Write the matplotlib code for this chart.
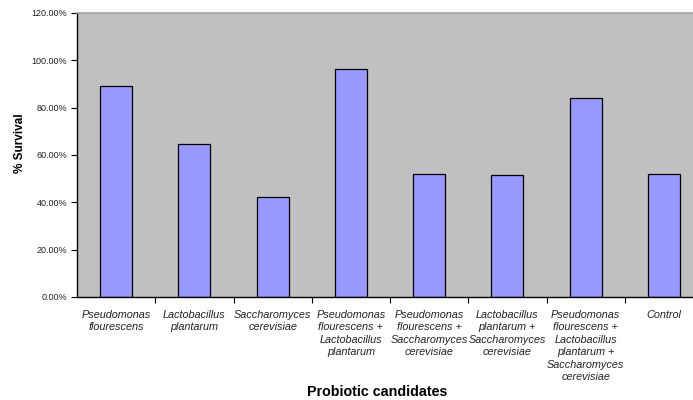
import matplotlib.pyplot as plt
from matplotlib.ticker import FuncFormatter

plt.rcParams["font.family"] = ["Liberation Sans", "DejaVu Sans"]

candidates = [
    "Pseudomonas\nflourescens",
    "Lactobacillus\nplantarum",
    "Saccharomyces\ncerevisiae",
    "Pseudomonas\nflourescens +\nLactobacillus\nplantarum",
    "Pseudomonas\nflourescens +\nSaccharomyces\ncerevisiae",
    "Lactobacillus\nplantarum +\nSaccharomyces\ncerevisiae",
    "Pseudomonas\nflourescens +\nLactobacillus\nplantarum +\nSaccharomyces\ncerevisiae",
    "Control",
]
survival = [0.89, 0.645, 0.421, 0.962, 0.521, 0.517, 0.841, 0.521]
y_ticks = [0.0, 0.2, 0.4, 0.6, 0.8, 1.0, 1.2]

fig = plt.figure(figsize=(6.93, 4.0), dpi=100)
ax = fig.add_axes([77 / 693, 103 / 400, 626 / 693, 284 / 400])
ax.set_facecolor("#C0C0C0")

x = range(len(candidates))
ax.bar(x, survival, width=0.41, color="#9999FF", edgecolor="black", linewidth=0.9)

ax.set_xlim(-0.5, len(candidates) - 0.5)
ax.set_ylim(0, 1.2)
ax.set_yticks(y_ticks)
ax.yaxis.set_major_formatter(FuncFormatter(lambda v, _: f"{v * 100:.2f}%"))
ax.tick_params(axis="y", labelsize=6.5, length=4, width=0.8, pad=3,
               direction="out", labelcolor="#222222")

# category labels centred under bars, tick marks on the boundaries
ax.set_xticks([i + 0.5 for i in x])
ax.set_xticklabels([])
ax.tick_params(axis="x", which="major", length=4, width=0.8, direction="out")
ax.set_xticks(list(x), minor=True)
ax.set_xticklabels(candidates, minor=True, fontsize=7.8, style="italic",
                   linespacing=1.32, ha="center", va="top", color="#222222")
ax.tick_params(axis="x", which="minor", length=0, pad=9)

ax.spines["top"].set_color("#A0A0A0")
ax.spines["top"].set_linewidth(1.2)
ax.spines["right"].set_visible(False)
ax.spines["left"].set_linewidth(1.0)
ax.spines["bottom"].set_linewidth(1.0)

fig.text(377 / 693, 1 - 392 / 400, "Probiotic candidates", fontsize=10.3,
         fontweight="bold", ha="center", va="center")
fig.text(20 / 693, 1 - 143 / 400, "% Survival", fontsize=8.5,
         fontweight="bold", rotation=90, ha="center", va="center")

fig.savefig("out.png", dpi=100)
